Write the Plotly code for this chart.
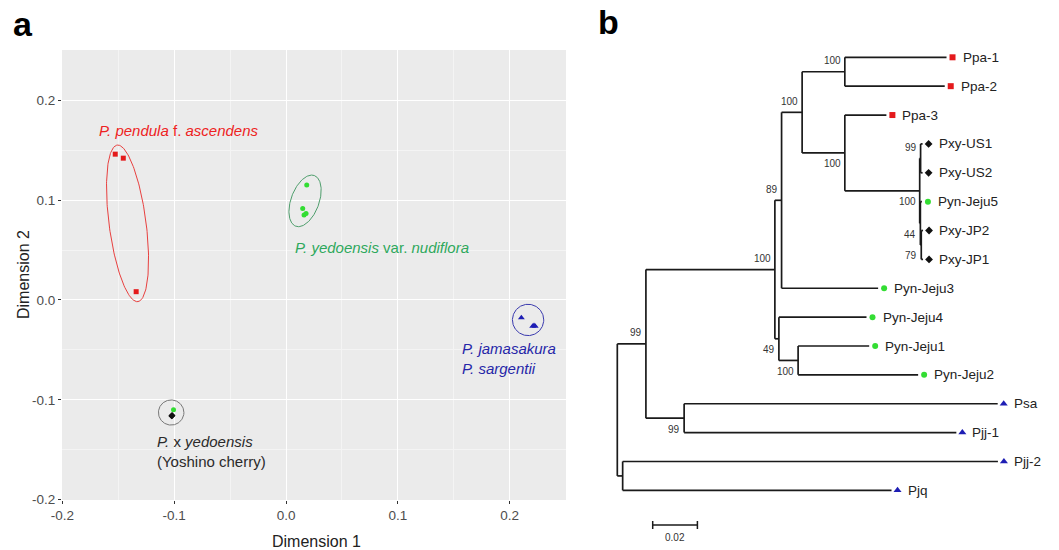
import numpy as np
import plotly.graph_objects as go

# ---------------- Panel a : MDS data ----------------
ppa_x = [-0.1527, -0.1455, -0.1340]
ppa_y = [0.1460, 0.1420, 0.0083]
pyn_x = [0.0185, 0.0149, 0.0161, 0.0179]
pyn_y = [0.1150, 0.0917, 0.0850, 0.0867]
pyn_hyb_x = [-0.1006]
pyn_hyb_y = [-0.1100]
pxy_x = [-0.1021, -0.1018, -0.1023, -0.1019]
pxy_y = [-0.1160, -0.1157, -0.1162, -0.1158]
pjs_x = [0.2104, 0.2205, 0.2228, 0.2217]
pjs_y = [-0.0177, -0.0262, -0.0262, -0.0255]

# ellipses: centre and two conjugate half-axis vectors (data units)
ell_cx = [-0.1417, 0.0170, -0.1027, 0.2164]
ell_cy = [0.0767, 0.0992, -0.1127, -0.0200]
ell_ux = [-0.00924, 0.0083, 0.0114, 0.0140]
ell_uy = [0.0784, 0.0254, 0.0, 0.0]
ell_vx = [0.01638, 0.0118, 0.0, 0.0]
ell_vy = [0.00242, -0.0048, 0.0126, 0.0157]
ell_colors = ["#E8403F", "#4E9E6C", "#777777", "#3A3AAE"]

x_ticks = [-0.2, -0.1, 0.0, 0.1, 0.2]
x_ticklabels = ["-0.2", "-0.1", "0.0", "0.1", "0.2"]
y_ticks = [-0.2, -0.1, 0.0, 0.1, 0.2]
y_ticklabels = ["-0.2", "-0.1", "0.0", "0.1", "0.2"]

# ---------------- Panel b : tree data ----------------
leaf_order = ["Ppa-1", "Ppa-2", "Ppa-3", "Pxy-US1", "Pxy-US2", "Pyn-Jeju5",
              "Pxy-JP2", "Pxy-JP1", "Pyn-Jeju3", "Pyn-Jeju4", "Pyn-Jeju1",
              "Pyn-Jeju2", "Psa", "Pjj-1", "Pjj-2", "Pjq"]
leaf_group = ["ppa", "ppa", "ppa", "pxy", "pxy", "pyn", "pxy", "pxy", "pyn",
              "pyn", "pyn", "pyn", "pjs", "pjs", "pjs", "pjs"]
edge_parent = ["root", "root", "A", "A", "C", "C", "E", "E", "G", "G", "H", "H",
               "I", "I", "J", "J", "K", "K", "L", "L", "M", "M", "F", "F",
               "N", "N", "D", "D", "B", "B"]
edge_child = ["A", "B", "C", "D", "E", "F", "G", "Pyn-Jeju3", "H", "I", "Ppa-1",
              "Ppa-2", "Ppa-3", "J", "K", "L", "Pxy-US1", "Pxy-US2", "Pyn-Jeju5",
              "M", "Pxy-JP2", "Pxy-JP1", "Pyn-Jeju4", "N", "Pyn-Jeju1",
              "Pyn-Jeju2", "Psa", "Pjj-1", "Pjj-2", "Pjq"]
edge_length = [0.0128, 0.0024, 0.0577, 0.0171, 0.0030, 0.0018, 0.0092, 0.0432,
               0.0191, 0.0191, 0.0455, 0.0447, 0.0186, 0.0335, 0.0004, 0.0003,
               0.0009, 0.0009, 0.0007, 0.0004, 0.0008, 0.0008, 0.0392, 0.0086,
               0.0318, 0.0537, 0.1403, 0.1218, 0.1679, 0.1203]
boot_node = ["A", "C", "D", "E", "F", "G", "H", "I", "J", "K", "L", "M", "N"]
boot_value = ["99", "100", "99", "89", "49", "100", "100", "100", "100", "99",
              "44", "79", "100"]
scale_bar_len = 0.02
scale_bar_label = "0.02"

FONT = "Liberation Sans, Arial, sans-serif"
W, H = 1059, 550

group_style = {
    "ppa": dict(symbol="square", color="#E41A1C", size=6),
    "pxy": dict(symbol="diamond", color="#111111", size=6),
    "pyn": dict(symbol="circle", color="#33DD33", size=6),
    "pjs": dict(symbol="triangle-up", color="#1E1EB4", size=7),
}

fig = go.Figure()

# ---- panel a ellipses
t = np.linspace(0, 2 * np.pi, 200)
for cx, cy, ux, uy, vx, vy, col in zip(ell_cx, ell_cy, ell_ux, ell_uy, ell_vx, ell_vy, ell_colors):
    ex = cx + ux * np.cos(t) + vx * np.sin(t)
    ey = cy + uy * np.cos(t) + vy * np.sin(t)
    fig.add_trace(go.Scatter(x=ex, y=ey, mode="lines", line=dict(color=col, width=1),
                             xaxis="x", yaxis="y", hoverinfo="skip", showlegend=False))

# ---- panel a points
for xs, ys, g in [(ppa_x, ppa_y, "ppa"), (pyn_x, pyn_y, "pyn"), (pxy_x, pxy_y, "pxy"),
                  (pyn_hyb_x, pyn_hyb_y, "pyn"), (pjs_x, pjs_y, "pjs")]:
    st = group_style[g]
    fig.add_trace(go.Scatter(x=xs, y=ys, mode="markers",
                             marker=dict(symbol=st["symbol"], color=st["color"], size=st["size"] - 1),
                             xaxis="x", yaxis="y", showlegend=False))

# ---- tree layout
children, blen = {}, {}
for p, c, l in zip(edge_parent, edge_child, edge_length):
    children.setdefault(p, []).append(c)
    blen[c] = l
parent_of = {c: p for p, c in zip(edge_parent, edge_child)}
xpos = {"root": 0.0}


def setx(n):
    for c in children.get(n, []):
        xpos[c] = xpos[n] + blen[c]
        setx(c)


setx("root")
ypos = {name: i for i, name in enumerate(leaf_order)}


def sety(n):
    if n in ypos:
        return ypos[n]
    ys = [sety(c) for c in children[n]]
    ypos[n] = (ys[0] + ys[-1]) / 2
    return ypos[n]


sety("root")

PPU = 44.7 / 0.02          # pixels per tree unit
ROOT_PX = 617.3
LEAF0_PX, LEAF_STEP = 57.3, 28.87

lx, ly = [], []
for p, kids in children.items():
    lx += [xpos[p], xpos[p], None]
    ly += [ypos[kids[0]], ypos[kids[-1]], None]
    for c in kids:
        lx += [xpos[p], xpos[c], None]
        ly += [ypos[c], ypos[c], None]
fig.add_trace(go.Scatter(x=lx, y=ly, mode="lines", line=dict(color="#1a1a1a", width=1.7),
                         xaxis="x2", yaxis="y2", hoverinfo="skip", showlegend=False))

# tip markers
for g in group_style:
    names = [n for n, gg in zip(leaf_order, leaf_group) if gg == g]
    st = group_style[g]
    fig.add_trace(go.Scatter(x=[xpos[n] + 6 / PPU for n in names], y=[ypos[n] for n in names],
                             mode="markers", marker=dict(symbol=st["symbol"], color=st["color"], size=st["size"]),
                             xaxis="x2", yaxis="y2", showlegend=False))

annotations = []
for n in leaf_order:
    annotations.append(dict(x=xpos[n] + 14 / PPU, y=ypos[n], xref="x2", yref="y2", text=n,
                            showarrow=False, xanchor="left", yanchor="middle",
                            font=dict(family=FONT, size=13.5, color="#222222")))
dy_lab = 11 / LEAF_STEP
for n, v in zip(boot_node, boot_value):
    upper = children[parent_of[n]][0] == n
    annotations.append(dict(x=xpos[n] - 2 / PPU, y=ypos[n] - dy_lab if upper else ypos[n] + dy_lab,
                            xref="x2", yref="y2", text=v, showarrow=False, xanchor="right",
                            yanchor="middle", font=dict(family=FONT, size=10, color="#333333")))

# scale bar
sb_x0 = (652.7 - ROOT_PX) / PPU
sb_y = (525 - LEAF0_PX) / LEAF_STEP
tk = 4 / LEAF_STEP
fig.add_trace(go.Scatter(x=[sb_x0, sb_x0 + scale_bar_len, None, sb_x0, sb_x0, None,
                            sb_x0 + scale_bar_len, sb_x0 + scale_bar_len],
                         y=[sb_y, sb_y, None, sb_y - tk, sb_y + tk, None, sb_y - tk, sb_y + tk],
                         mode="lines", line=dict(color="#1a1a1a", width=1.5),
                         xaxis="x2", yaxis="y2", hoverinfo="skip", showlegend=False))
annotations.append(dict(x=sb_x0 + scale_bar_len / 2, y=sb_y + 12 / LEAF_STEP, xref="x2", yref="y2",
                        text=scale_bar_label, showarrow=False, xanchor="center", yanchor="middle",
                        font=dict(family=FONT, size=10, color="#333333")))

# ---- panel a text
lab_font = 15
annotations += [
    dict(x=-0.169, y=0.170, xref="x", yref="y", text="<i>P. pendula</i> f. <i>ascendens</i>",
         showarrow=False, xanchor="left", yanchor="middle", font=dict(family=FONT, size=lab_font, color="#EE2222")),
    dict(x=0.006, y=0.0527, xref="x", yref="y", text="<i>P. yedoensis</i> var. <i>nudiflora</i>",
         showarrow=False, xanchor="left", yanchor="middle", font=dict(family=FONT, size=lab_font, color="#2EA85C")),
    dict(x=-0.117, y=-0.1513, xref="x", yref="y", text="<i>P.</i> x <i>yedoensis</i><br>(Yoshino cherry)",
         showarrow=False, xanchor="left", yanchor="middle", align="left",
         font=dict(family=FONT, size=lab_font, color="#2a2a2a")),
    dict(x=0.1554, y=-0.0585, xref="x", yref="y", text="<i>P. jamasakura<br>P. sargentii</i>",
         showarrow=False, xanchor="left", yanchor="middle", align="left",
         font=dict(family=FONT, size=lab_font, color="#2626A8")),
    dict(x=316 / W, y=1 - 541 / H, xref="paper", yref="paper", text="Dimension 1", showarrow=False,
         xanchor="center", yanchor="middle", font=dict(family=FONT, size=16, color="#222222")),
    dict(x=23 / W, y=1 - 275 / H, xref="paper", yref="paper", text="Dimension 2", showarrow=False,
         textangle=-90, xanchor="center", yanchor="middle", font=dict(family=FONT, size=16, color="#222222")),
    dict(x=23 / W, y=1 - 24 / H, xref="paper", yref="paper", text="<b>a</b>", showarrow=False,
         xanchor="center", yanchor="middle", font=dict(family=FONT, size=34, color="#000000")),
    dict(x=608 / W, y=1 - 22 / H, xref="paper", yref="paper", text="<b>b</b>", showarrow=False,
         xanchor="center", yanchor="middle", font=dict(family=FONT, size=34, color="#000000")),
]

xa_dom = [62 / W, 566 / W]
ya_dom = [1 - 500 / H, 1 - 50 / H]

fig.update_layout(
    width=W, height=H, margin=dict(l=0, r=0, t=0, b=0, autoexpand=False),
    paper_bgcolor="white", plot_bgcolor="rgba(0,0,0,0)",
    showlegend=False, annotations=annotations,
    shapes=[dict(type="rect", xref="x domain", yref="y domain", x0=0, x1=1, y0=0, y1=1,
                 fillcolor="#EBEBEB", line=dict(width=0), layer="below")],
    xaxis=dict(domain=xa_dom, range=[-0.2003, 0.2503], tickvals=x_ticks, ticktext=x_ticklabels,
               showgrid=True, gridcolor="white", gridwidth=1.4, zeroline=False,
               ticks="outside", ticklen=3, tickcolor="#333333", automargin=False,
               tickfont=dict(family=FONT, size=13.5, color="#4D4D4D"),
               minor=dict(tickvals=[-0.15, -0.05, 0.05, 0.15, 0.25], showgrid=True,
                          gridcolor="#F4F4F4", gridwidth=0.7, ticks=""),
               anchor="y", showline=False),
    yaxis=dict(domain=ya_dom, range=[-0.2003, 0.2503], tickvals=y_ticks, ticktext=y_ticklabels,
               showgrid=True, gridcolor="white", gridwidth=1.4, zeroline=False,
               ticks="outside", ticklen=3, tickcolor="#333333", automargin=False,
               tickfont=dict(family=FONT, size=13.5, color="#4D4D4D"),
               minor=dict(tickvals=[-0.15, -0.05, 0.05, 0.15], showgrid=True,
                          gridcolor="#F4F4F4", gridwidth=0.7, ticks=""),
               anchor="x", showline=False),
    xaxis2=dict(domain=[600 / W, 1.0], range=[(600 - ROOT_PX) / PPU, (W - ROOT_PX) / PPU],
                visible=False, anchor="y2", automargin=False),
    yaxis2=dict(domain=[0, 1], range=[(H - LEAF0_PX) / LEAF_STEP, (0 - LEAF0_PX) / LEAF_STEP],
                visible=False, anchor="x2", automargin=False),
)

fig.write_html("out.html", config={"displayModeBar": False},
               post_script="document.body.style.margin='0';document.body.style.overflow='hidden';")
